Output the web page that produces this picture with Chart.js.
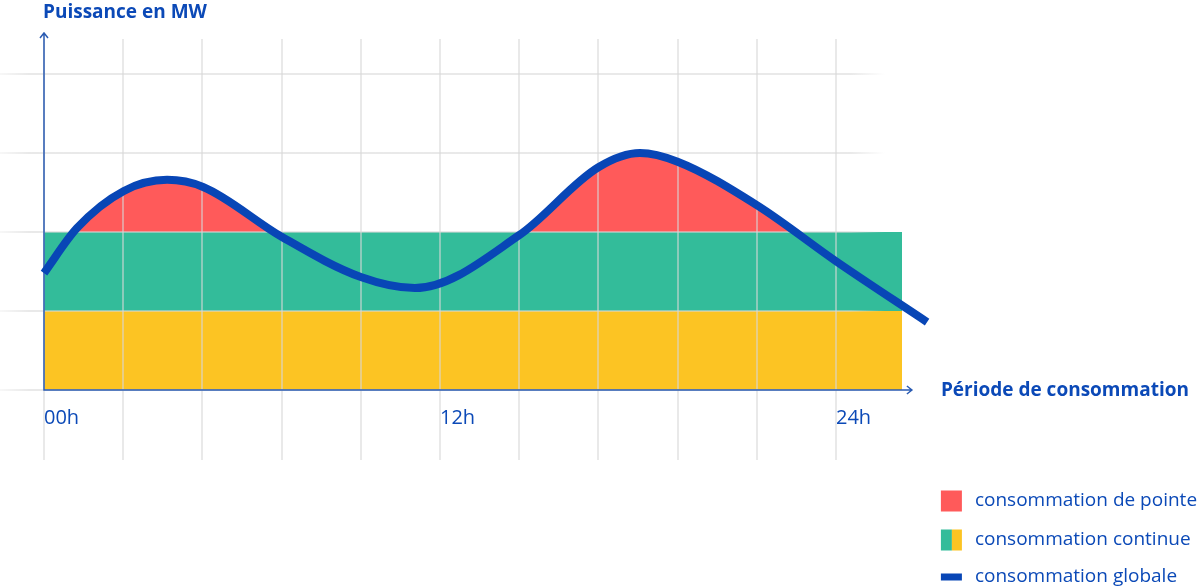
<!DOCTYPE html>
<html lang="fr">
<head>
<meta charset="utf-8">
<title>Puissance en MW</title>
<script src="https://cdn.jsdelivr.net/npm/chart.js@4.4.1/dist/chart.umd.min.js"></script>
<style>
  html, body { margin: 0; padding: 0; background: #fff; }
  canvas { display: block; }
</style>
</head>
<body>
<canvas id="chart" width="1200" height="588"></canvas>
<script>
// axe x en heures, axe y en unités de grille
const gridHours = [0, 2.4, 4.8, 7.2, 9.6, 12, 14.4, 16.8, 19.2, 21.6, 24];
const labeledHours = [0, 12, 24];
const hourLabels = ['00h', '12h', '24h'];
const powerTicks = [0, 1, 2, 3, 4];

// bandes de consommation continue
const bandHours = [0, 26];
const baseLevel = [1, 1];
const continuousLevel = [2, 2];
const peakThreshold = 2;

const curveHours = [0, 1.0, 2.42, 3.73, 4.82, 7.2, 9.6, 11.24, 14.4, 16.8, 18.06, 19.2, 21.6, 24, 26.76];
const curveValues = [1.48, 2.05, 2.52, 2.66, 2.57, 1.94, 1.43, 1.29, 1.96, 2.82, 3.0, 2.89, 2.34, 1.63, 0.86];

const legendLabels = ['consommation de pointe', 'consommation continue', 'consommation globale'];

const BLUE = '#0846b6';
const TEXT = '#0b49b7';
const AXIS = '#2a5bb2';
const RED = '#ff5a5a';
const GREEN = '#33bc9a';
const YELLOW = '#fcc423';
const GRID = 'rgba(215, 215, 215, 0.55)';
const FONT = '"Open Sans", sans-serif';
const CURVE = 2;

Chart.defaults.font.family = FONT;

function toPoints(xs, ys) {
  return xs.map((x, i) => ({ x: x, y: ys[i] }));
}

// lignes horizontales qui s'estompent à droite
function fadingGrid(c) {
  const chart = c.chart;
  const area = chart.chartArea;
  if (!area) return GRID;
  const g = chart.ctx.createLinearGradient(0, 0, area.right, 0);
  g.addColorStop(0, 'rgba(215, 215, 215, 0.2)');
  g.addColorStop(30 / area.right, GRID);
  g.addColorStop(850 / area.right, GRID);
  g.addColorStop(885 / area.right, 'rgba(215, 215, 215, 0)');
  g.addColorStop(1, 'rgba(215, 215, 215, 0)');
  return g;
}

const decor = {
  id: 'decor',
  beforeDatasetDraw(chart, args) {
    // la courbe est dessinée après la grille
    if (args.index === CURVE) return false;
  },
  afterDraw(chart) {
    const { ctx } = chart;
    const x = chart.scales.x;
    const y = chart.scales.y;
    const x0 = x.getPixelForValue(0);
    const y0 = y.getPixelForValue(0);
    const xEnd = x.getPixelForValue(26.3);
    const yEnd = y.getPixelForValue(4.52);

    ctx.save();
    ctx.strokeStyle = AXIS;
    ctx.lineWidth = 1.5;
    ctx.beginPath();
    ctx.moveTo(x0, yEnd);
    ctx.lineTo(x0, y0);
    ctx.lineTo(xEnd, y0);
    ctx.moveTo(x0 - 4, yEnd + 5);
    ctx.lineTo(x0, yEnd);
    ctx.lineTo(x0 + 4, yEnd + 5);
    ctx.moveTo(xEnd - 5, y0 - 4);
    ctx.lineTo(xEnd, y0);
    ctx.lineTo(xEnd - 5, y0 + 4);
    ctx.stroke();
    ctx.restore();

    chart.getDatasetMeta(CURVE).controller.draw();

    ctx.save();
    ctx.fillStyle = TEXT;
    ctx.textBaseline = 'middle';
    ctx.textAlign = 'left';
    ctx.font = 'bold 19px ' + FONT;
    ctx.fillText('Puissance en MW', x0 - 1, 13);
    ctx.fillText('Période de consommation', xEnd + 29, y0 + 1);

    // légende
    const lx = xEnd + 29;
    const rows = [501, 540, 577];
    ctx.fillStyle = RED;
    ctx.fillRect(lx, rows[0] - 10.5, 21, 21);
    ctx.fillStyle = GREEN;
    ctx.fillRect(lx, rows[1] - 10.5, 11, 21);
    ctx.fillStyle = YELLOW;
    ctx.fillRect(lx + 11, rows[1] - 10.5, 10, 21);
    ctx.fillStyle = BLUE;
    ctx.fillRect(lx, rows[2] - 3.5, 21, 7);
    ctx.fillStyle = TEXT;
    ctx.font = '19px ' + FONT;
    legendLabels.forEach((t, i) => ctx.fillText(t, lx + 34, rows[i]));
    ctx.restore();
  }
};

new Chart(document.getElementById('chart'), {
  type: 'line',
  data: {
    datasets: [
      {
        label: 'consommation continue (base)',
        data: toPoints(bandHours, baseLevel),
        borderWidth: 0,
        pointRadius: 0,
        backgroundColor: YELLOW,
        fill: 'origin',
      },
      {
        label: 'consommation continue',
        data: toPoints(bandHours, continuousLevel),
        borderWidth: 0,
        pointRadius: 0,
        backgroundColor: GREEN,
        fill: '-1',
      },
      {
        label: 'consommation globale',
        data: toPoints(curveHours, curveValues),
        borderColor: BLUE,
        borderWidth: 8,
        pointRadius: 0,
        cubicInterpolationMode: 'monotone',
        fill: { target: { value: peakThreshold }, above: RED, below: 'rgba(0,0,0,0)' },
      },
    ],
  },
  options: {
    responsive: false,
    animation: false,
    devicePixelRatio: 1,
    layout: { padding: { top: 39, right: 265, left: 0, bottom: 0 } },
    plugins: {
      legend: { display: false },
      tooltip: { enabled: false },
    },
    scales: {
      x: {
        type: 'linear',
        min: 0,
        max: 27,
        afterBuildTicks: (s) => { s.ticks = gridHours.map((v) => ({ value: v })); },
        afterFit: (s) => { s.height = 198; },
        grid: { color: GRID, lineWidth: 2, z: 1, drawTicks: true, tickLength: 70 },
        border: { display: false },
        ticks: {
          autoSkip: false,
          maxRotation: 0,
          align: 'start',
          padding: -54,
          color: TEXT,
          font: { size: 20 },
          callback: (v) => {
            const i = labeledHours.indexOf(v);
            return i < 0 ? '' : hourLabels[i];
          },
        },
      },
      y: {
        min: 0,
        max: 4.443,
        afterBuildTicks: (s) => { s.ticks = powerTicks.map((v) => ({ value: v })); },
        afterFit: (s) => { s.width = 44; },
        grid: { color: fadingGrid, lineWidth: 2, z: 1, drawTicks: true, tickLength: 44 },
        border: { display: false },
        ticks: { display: false },
      },
    },
  },
  plugins: [decor],
});
</script>
</body>
</html>
